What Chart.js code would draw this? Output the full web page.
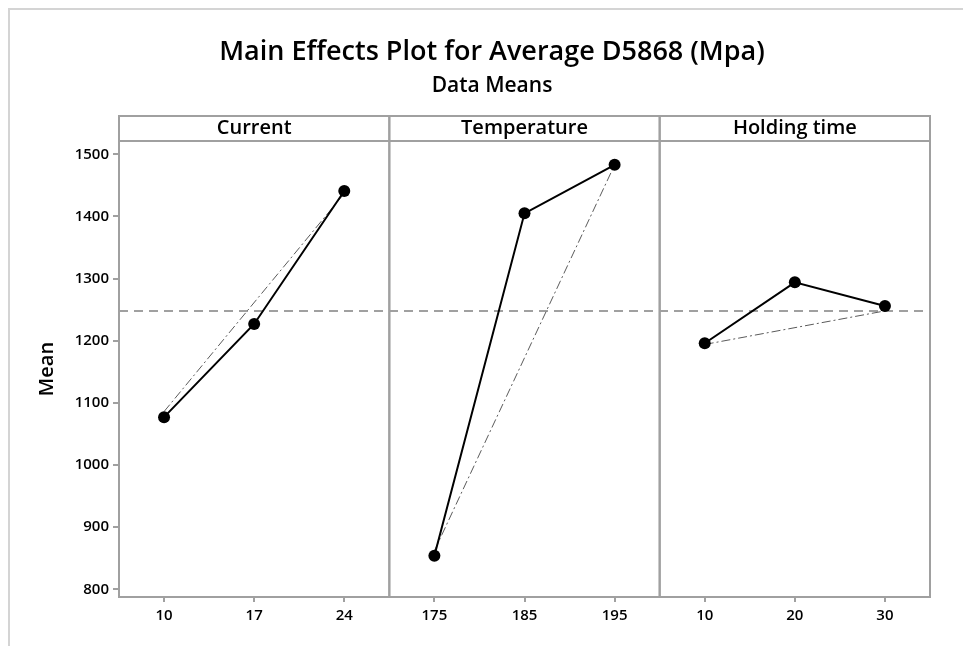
<!DOCTYPE html>
<html>
<head>
<meta charset="utf-8">
<script src="https://cdn.jsdelivr.net/npm/chart.js@4.4.1/dist/chart.umd.min.js"></script>
<style>
  html, body { margin: 0; padding: 0; background: #fff; }
  #wrap { width: 963px; height: 646px; position: relative; }
</style>
</head>
<body>
<div id="wrap"><canvas id="grafico" width="963" height="646"></canvas></div>
<script>
// fatores e niveis
const fatores = ['Current', 'Temperature', 'Holding time'];
const niveis = [
    ['10', '17', '24'],
    ['175', '185', '195'],
    ['10', '20', '30']
];
// medias por nivel
const mediaCurrent = [1077, 1227, 1441];
const mediaTemperature = [854, 1405, 1483];
const mediaHolding = [1196, 1294, 1256];
// linha traco-ponto (inicio, fim) de cada fator
const tendCurrent = [1086, 1437];
const tendTemperature = [862, 1483];
const tendHolding = [1194, 1248];
// media geral
const mediaGeral = 1248;
const yTicks = [800, 900, 1000, 1100, 1200, 1300, 1400, 1500];

const medias = [mediaCurrent, mediaTemperature, mediaHolding];
const tendencias = [tendCurrent, tendTemperature, tendHolding];
const rotulosX = niveis.flat();

const cinza = '#a0a0a0';
const fonte = "'Open Sans', 'Noto Sans', sans-serif";

let datasets = [];
medias.forEach((m, f) => {
    datasets.push({
        data: m.map((v, i) => ({ x: f * 3 + i, y: v })),
        borderColor: '#000',
        backgroundColor: '#000',
        borderWidth: 2,
        pointRadius: 6,
        pointBorderWidth: 0,
        order: 1
    });
});
tendencias.forEach((t, f) => {
    datasets.push({
        data: [{ x: f * 3, y: t[0] }, { x: f * 3 + 2, y: t[1] }],
        borderColor: '#5a5a5a',
        borderWidth: 1,
        borderDash: [9, 3, 2, 3],
        pointRadius: 0,
        order: 2
    });
});
datasets.push({
    data: [{ x: -0.5, y: mediaGeral }, { x: 8.5, y: mediaGeral }],
    borderColor: cinza,
    borderWidth: 2,
    borderDash: [9, 6],
    pointRadius: 0,
    order: 3
});

// molduras dos paineis, cabecalhos e titulos
const paineis = {
    id: 'paineis',
    afterDraw(chart) {
        const c = chart.ctx;
        const a = chart.chartArea;
        const sx = chart.scales.x;
        c.save();
        // borda da figura
        c.strokeStyle = '#d4d4d4';
        c.lineWidth = 2;
        c.beginPath();
        c.moveTo(9, 646);
        c.lineTo(9, 9);
        c.lineTo(963, 9);
        c.stroke();

        c.strokeStyle = cinza;
        c.lineWidth = 2;
        c.fillStyle = '#000';
        c.textAlign = 'center';
        c.textBaseline = 'middle';
        c.font = "600 20px " + fonte;
        fatores.forEach((nome, f) => {
            const x0 = sx.getPixelForValue(f * 3 - 0.5);
            const x1 = sx.getPixelForValue(f * 3 + 2.5);
            c.strokeRect(x0, a.top, x1 - x0, a.bottom - a.top);
            c.strokeRect(x0, 116, x1 - x0, a.top - 116);
            c.fillText(nome, (x0 + x1) / 2, 128);
        });

        c.font = "600 27px " + fonte;
        c.fillText('Main Effects Plot for Average D5868 (Mpa)', 492, 52);
        c.font = "600 21px " + fonte;
        c.fillText('Data Means', 492, 86);
        c.restore();
    }
};

new Chart(document.getElementById('grafico'), {
    type: 'line',
    data: { datasets: datasets },
    options: {
        responsive: false,
        animation: false,
        layout: { padding: { top: 141, right: 33, left: 0, bottom: 0 } },
        plugins: { legend: { display: false }, tooltip: { enabled: false } },
        scales: {
            x: {
                type: 'linear',
                min: -0.5,
                max: 8.5,
                afterFit(s) { s.height = 49; },
                afterBuildTicks(s) { s.ticks = rotulosX.map((_, i) => ({ value: i })); },
                ticks: {
                    callback: (v) => rotulosX[v],
                    color: '#000',
                    padding: 5,
                    maxRotation: 0,
                    font: { family: fonte, size: 15, weight: '600' }
                },
                grid: { drawOnChartArea: false, color: cinza, lineWidth: 2, tickLength: 5 },
                border: { display: false }
            },
            y: {
                min: 787.6,
                max: 1521.4,
                afterFit(s) { s.width = 119; },
                afterBuildTicks(s) { s.ticks = yTicks.map(v => ({ value: v })); },
                ticks: {
                    callback: (v) => String(v),
                    color: '#000',
                    padding: 4,
                    font: { family: fonte, size: 15, weight: '600' }
                },
                grid: { drawOnChartArea: false, color: cinza, lineWidth: 2, tickLength: 6 },
                border: { display: false },
                title: {
                    display: true,
                    text: 'Mean',
                    color: '#000',
                    padding: { top: 35, bottom: 0 },
                    font: { family: fonte, size: 20, weight: '600' }
                }
            }
        }
    },
    plugins: [paineis]
});
</script>
</body>
</html>
